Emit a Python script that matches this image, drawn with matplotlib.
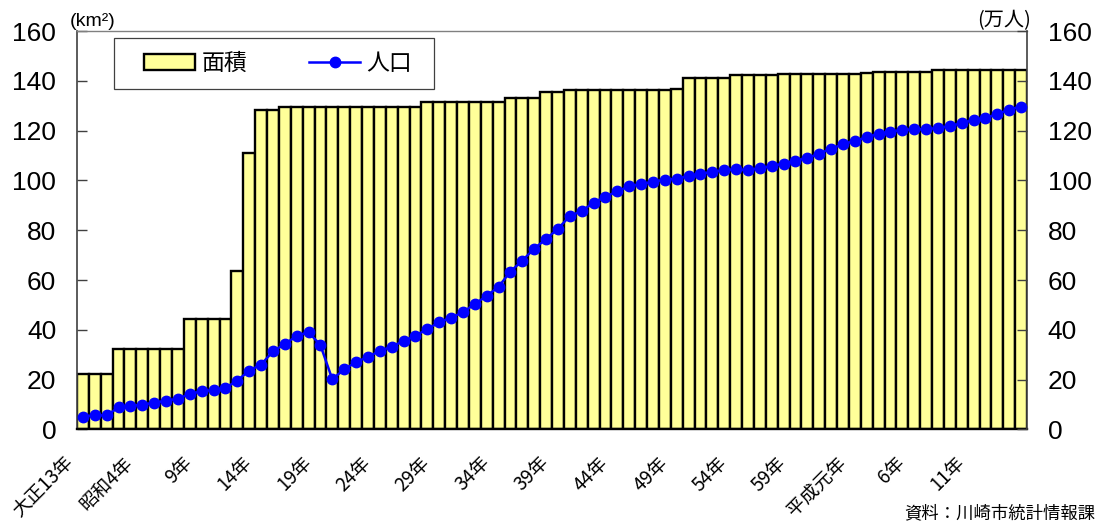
import numpy as np
import matplotlib
matplotlib.use("Agg")
import matplotlib.pyplot as plt
import matplotlib.transforms as mtransforms
from matplotlib.patches import Patch, Rectangle
from matplotlib.lines import Line2D

# 面積 (km2) and 人口 (万人), 大正13年 (1924) - 平成15年 (2003)
area = [22.2, 22.2, 22.2, 32.2, 32.2, 32.2, 32.2, 32.2, 32.2, 44.2,
        44.2, 44.2, 44.2, 63.8, 110.9, 128.3, 128.3, 129.4, 129.4, 129.4,
        129.4, 129.4, 129.4, 129.4, 129.4, 129.4, 129.4, 129.4, 129.4, 131.4,
        131.4, 131.4, 131.4, 131.4, 131.4, 131.4, 133.0, 133.0, 133.0, 135.4,
        135.4, 136.4, 136.4, 136.4, 136.4, 136.4, 136.4, 136.4, 136.4, 136.4,
        136.8, 141.2, 141.2, 141.2, 141.2, 142.3, 142.3, 142.3, 142.3, 142.8,
        142.8, 142.8, 142.8, 142.8, 142.8, 142.8, 143.4, 143.8, 143.8, 143.8,
        143.8, 143.8, 144.3, 144.3, 144.3, 144.3, 144.3, 144.3, 144.3, 144.3]

pop = [5.1, 5.6, 5.6, 8.8, 9.4, 9.9, 10.7, 11.5, 12.3, 14.2,
       15.3, 15.8, 16.6, 19.6, 23.6, 26.0, 31.3, 34.3, 37.5, 39.1,
       33.8, 20.1, 24.1, 27.0, 29.1, 31.5, 33.2, 35.5, 37.6, 40.3,
       43.0, 44.9, 47.0, 50.4, 53.6, 57.3, 63.4, 67.8, 72.6, 76.5,
       80.6, 85.7, 87.7, 91.1, 93.5, 95.6, 97.7, 98.5, 99.5, 100.3,
       100.7, 101.8, 102.7, 103.4, 104.2, 104.5, 104.2, 104.9, 105.8, 106.8,
       108.0, 109.0, 110.8, 112.8, 114.5, 116.0, 117.3, 118.8, 119.6, 120.3,
       120.6, 120.6, 121.1, 121.8, 123.1, 124.3, 125.1, 126.7, 128.5, 129.7]

year_labels = ["大正13年", "昭和4年", "9年", "14年", "19年", "24年", "29年", "34年",
               "39年", "44年", "49年", "54年", "59年", "平成元年", "6年", "11年"]
label_step = 5

jp = ["Noto Sans CJK JP", "DejaVu Sans"]
num = ["Liberation Sans", "DejaVu Sans"]

fig = plt.figure(figsize=(10.95, 5.22), dpi=100)
ax = fig.add_axes([77/1095, 1-429.3/522, 950/1095, 398.1/522])
ax2 = ax.twinx()

x = np.arange(len(area))
ax.bar(x, area, width=1.0, color="#FFFF99", edgecolor="black", linewidth=1.7, zorder=2)
ax2.plot(x, pop, color="#0000FF", lw=1.8, marker="o", ms=7.5, zorder=3)

for a in (ax, ax2):
    a.set_ylim(0, 160)
    a.set_xlim(-0.5, len(area) - 0.5)
    a.set_yticks(np.arange(0, 161, 20))
    a.tick_params(axis="y", direction="in", length=7, width=1, color="#404040",
                  labelsize=19, pad=15)
    for lbl in a.get_yticklabels():
        lbl.set_family(num)

ax.spines["right"].set_visible(False)
for s in ("left", "top", "bottom"):
    ax2.spines[s].set_visible(False)
ax.spines["left"].set_color("#404040")
ax.spines["left"].set_linewidth(1.2)
ax2.spines["right"].set_color("#404040")
ax2.spines["right"].set_linewidth(1.2)
ax.spines["top"].set_color("#808080")
ax.spines["top"].set_linewidth(1.0)
ax.spines["bottom"].set_color("black")
ax.spines["bottom"].set_linewidth(1.7)

# x labels every 5 years, rotated
ax.set_xticks(x[::label_step])
ax.set_xticklabels(year_labels, rotation=45, ha="right", va="center",
                   rotation_mode="anchor", fontsize=13.5, family=jp)
ax.tick_params(axis="x", length=0, pad=22)
shift = mtransforms.ScaledTranslation(-12 / 100, 0, fig.dpi_scale_trans)
for lbl in ax.get_xticklabels():
    lbl.set_transform(lbl.get_transform() + shift)

# legend with a square frame
ax2.add_patch(Rectangle((0.039, 0.855), 0.337, 0.128, transform=ax2.transAxes,
                        facecolor="white", edgecolor="#404040", lw=0.9, zorder=4))
handles = [Patch(facecolor="#FFFF99", edgecolor="black", lw=1.7, label="面積"),
           Line2D([], [], color="#0000FF", lw=1.8, marker="o", ms=7.5, label="人口")]
leg = ax2.legend(handles=handles, ncol=2, frameon=False, loc="center",
                 bbox_to_anchor=(0.212, 0.919), handlelength=2.2, handletextpad=0.3,
                 columnspacing=2.7, prop={"family": jp, "size": 16.5})
leg.set_zorder(5)

fig.text(70/1095, 1-21/522, "(km²)", ha="left", va="center", fontsize=14, family=num)
fig.text(1031/1095, 1-21/522, "(万人)", ha="right", va="center", fontsize=14.5, family=jp)
fig.text(904/1095, 1-513/522, "資料：川崎市統計情報課", ha="left", va="center",
         fontsize=12.5, family=jp)

fig.savefig("out.png", dpi=100)
